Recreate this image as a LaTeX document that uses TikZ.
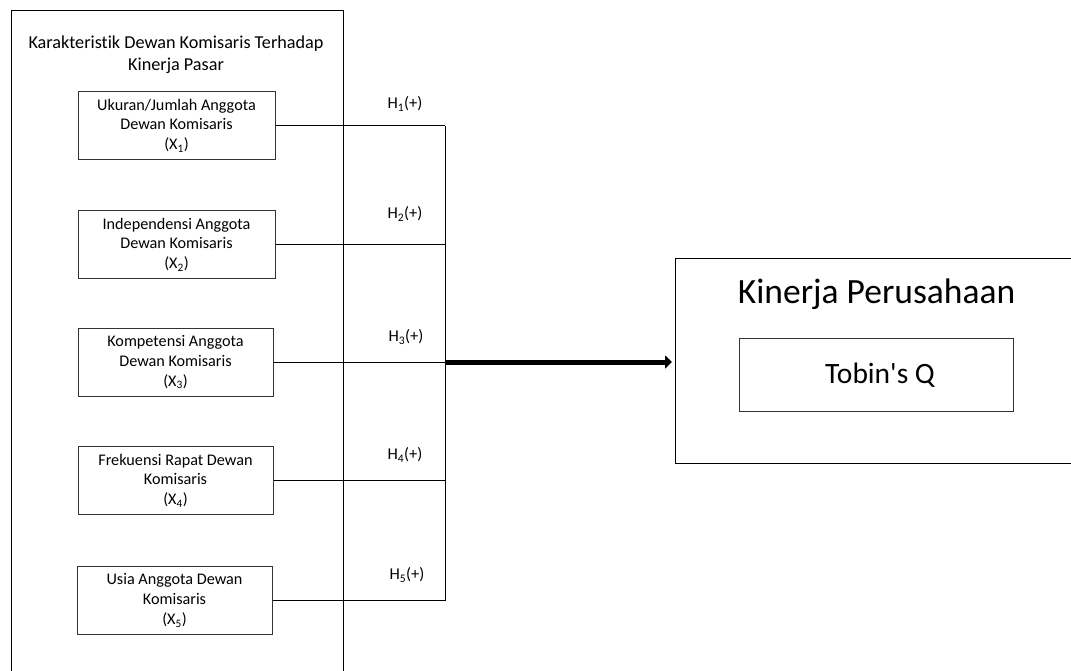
\documentclass[tikz,border=0pt]{standalone}
\usepackage{fontspec}
\setmainfont[Ligatures={NoCommon}]{Carlito}
\usetikzlibrary{arrows.meta,calc}
\begin{document}
\begin{tikzpicture}[x=1pt,y=-1pt,
  xbox/.style={draw=black!80, line width=1pt, minimum width=197pt, minimum height=68pt, align=center, inner sep=0pt, font=\fontsize{16.2}{19.8}\selectfont},
  hlab/.style={font=\fontsize{16.5}{18}\selectfont, inner sep=0pt},
  conn/.style={line width=0.8pt},
  frame/.style={line width=1pt}]
\useasboundingbox (0,0) rectangle (1071,670);
\fill[white] (0,0) rectangle (1071,670);
% left frame
\draw[frame] (11,675) -- (11,10) -- (343,10) -- (343,675);
\node[align=center, font=\fontsize{18.2}{22}\selectfont] (title) at (176,55) {Karakteristik Dewan Komisaris Terhadap\\Kinerja Pasar};
% boxes
\node[xbox] (x1) at (176.5,125.5) {Ukuran/Jumlah Anggota\\Dewan Komisaris\\(X\textsubscript{1})};
\node[xbox] (x2) at (176.5,244.5) {Independensi Anggota\\Dewan Komisaris\\(X\textsubscript{2})};
\node[xbox, minimum width=195pt] (x3) at (175.5,362) {Kompetensi Anggota\\Dewan Komisaris\\(X\textsubscript{3})};
\node[xbox, minimum width=195pt] (x4) at (175.5,480.5) {Frekuensi Rapat Dewan\\Komisaris\\(X\textsubscript{4})};
\node[xbox, minimum width=195pt] (x5) at (174.5,600.5) {Usia Anggota Dewan\\Komisaris\\(X\textsubscript{5})};
% bus coordinates
\coordinate (b1) at (445,125.5);
\coordinate (b2) at (445,244.5);
\coordinate (b3) at (445,362);
\coordinate (b4) at (445,480.5);
\coordinate (b5) at (445,600.5);
\draw[conn] (x1.east) -- (b1);
\draw[conn] (x2.east) -- (b2);
\draw[conn] (x3.east) -- (b3);
\draw[conn] (x4.east) -- (b4);
\draw[conn] (x5.east) -- (b5);
\draw[conn] (b1) -- (b5);
% labels
\node[hlab] (h1) at (405,104) {H\textsubscript{1}(+)};
\node[hlab] (h2) at (405,214) {H\textsubscript{2}(+)};
\node[hlab] (h3) at (406,337) {H\textsubscript{3}(+)};
\node[hlab] (h4) at (405,455) {H\textsubscript{4}(+)};
\node[hlab] (h5) at (407,575) {H\textsubscript{5}(+)};
% right box
\node[minimum width=420pt, minimum height=205pt, anchor=north west, inner sep=0pt] (kin) at (675,258) {};
\draw[frame] ($(kin.north west)+(420,0)$) -- (kin.north west) -- (kin.south west) -- ++(420,0);
\node[font=\fontsize{35.5}{38}\selectfont, anchor=base, inner sep=0pt] (kt) at (876.5,303) {Kinerja Perusahaan};
\node[draw=black!80, line width=1pt, minimum width=274pt, minimum height=73pt] (tq) at (876,374.5) {};
\node[font=\fontsize{29.5}{32}\selectfont, anchor=base, inner sep=0pt] (tqt) at (880,383) {Tobin\textquotesingle s Q};
% thick arrow
\draw[line width=5pt, -{Triangle[length=7pt,width=13pt]}, shorten >=3pt] (b3) -- (kin.west |- b3);
\end{tikzpicture}
\end{document}
